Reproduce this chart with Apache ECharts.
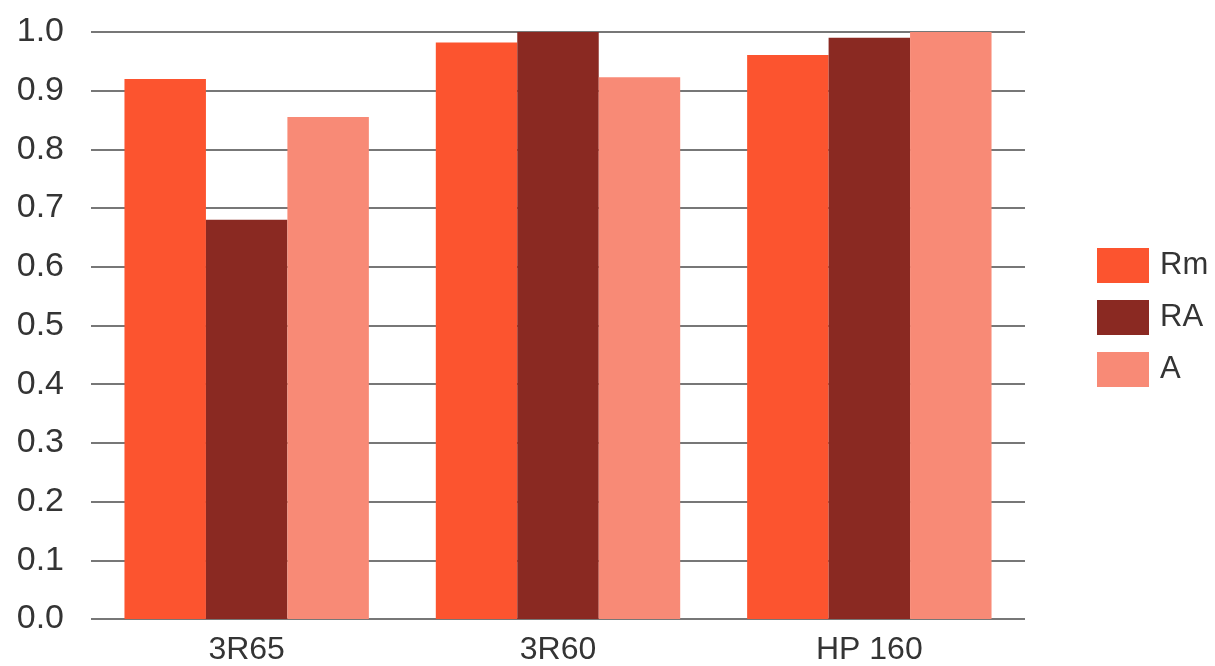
<!DOCTYPE html>
<html>
<head>
<meta charset="utf-8">
<script src="https://cdn.jsdelivr.net/npm/echarts@6/dist/echarts.min.js"></script>
<style>
  html, body { margin: 0; padding: 0; background: #ffffff; }
  #chart { width: 1215px; height: 666px; }
</style>
</head>
<body>
<div id="chart"></div>
<script>
// Categories and series values
const categories = ['3R65', '3R60', 'HP 160'];
const seriesNames = ['Rm', 'RA', 'A'];
const rmValues = [0.92, 0.982, 0.961];
const raValues = [0.68, 1.0, 0.99];
const aValues = [0.855, 0.923, 1.0];
const seriesColors = ['#fc542f', '#8a2922', '#f88a76'];

const FONT = '"Liberation Sans", Arial, sans-serif';
const TEXT = '#343434';

const chart = echarts.init(document.getElementById('chart'), null, { renderer: 'canvas' });

const valueSets = [rmValues, raValues, aValues];

chart.setOption({
  animation: false,
  backgroundColor: '#ffffff',
  grid: { left: 91, right: 190, top: 32, bottom: 47, containLabel: false },
  legend: {
    orient: 'vertical',
    left: 1092,
    top: 243,
    itemWidth: 52,
    itemHeight: 35,
    itemGap: 17,
    icon: 'rect',
    data: seriesNames,
    textStyle: { fontFamily: FONT, fontSize: 31, color: TEXT, padding: [0, 0, 0, 6] }
  },
  xAxis: {
    type: 'category',
    data: categories,
    axisLine: { show: false },
    axisTick: { show: false },
    axisLabel: { fontFamily: FONT, fontSize: 32, color: TEXT, margin: 15 }
  },
  yAxis: {
    type: 'value',
    min: 0,
    max: 1,
    interval: 0.1,
    axisLine: { show: false },
    axisTick: { show: false },
    splitLine: { lineStyle: { color: '#777777', width: 2 } },
    axisLabel: {
      fontFamily: FONT, fontSize: 34, color: TEXT, margin: 27,
      formatter: v => v.toFixed(1)
    }
  },
  series: seriesNames.map((name, i) => ({
    name: name,
    type: 'bar',
    data: valueSets[i],
    barGap: '0%',
    barCategoryGap: '21.5%',
    itemStyle: { color: seriesColors[i] }
  }))
});
</script>
</body>
</html>
